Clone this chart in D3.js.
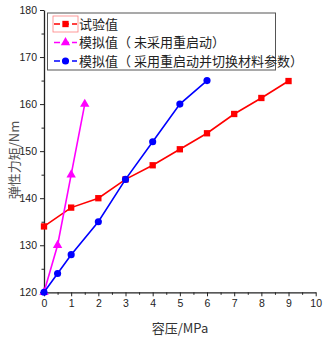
<!DOCTYPE html>
<html><head><meta charset="utf-8">
<script src="https://cdn.jsdelivr.net/npm/d3@7"></script>
<style>body{margin:0;background:#fff}svg{display:block}</style>
</head><body>
<script>
const seriesNames = ["试验值", "模拟值（ 未采用重启动）", "模拟值（ 采用重启动并切换材料参数）"];
const testX = [0, 1, 2, 3, 4, 5, 6, 7, 8, 9];
const testY = [134, 138, 140, 144, 147, 150.4, 153.8, 157.9, 161.3, 164.9];
const simAX = [0, 0.5, 1, 1.5];
const simAY = [120, 130, 145, 160];
const simBX = [0, 0.5, 1, 2, 3, 4, 5, 6];
const simBY = [120, 124, 128, 135, 144, 152, 160, 165];
const xTicks = [0, 1, 2, 3, 4, 5, 6, 7, 8, 9, 10];
const yTicks = [120, 130, 140, 150, 160, 170, 180];
const colors = ["#ff0000", "#ff00ff", "#0000ff"];

const W = 326, H = 342;
const svg = d3.select("body").append("svg").attr("width", W).attr("height", H);
const x = d3.scaleLinear().domain([0, 10]).range([44, 315.7]);
const y = d3.scaleLinear().domain([120, 180]).range([292.3, 10]);

const tickFont = "'Liberation Sans Narrow','Arial Narrow','Liberation Sans',sans-serif";

// axes
const xAxis = svg.append("g").attr("transform", `translate(0,${y(120)})`)
  .call(d3.axisBottom(x).tickValues(xTicks).tickSize(4).tickSizeOuter(0).tickFormat(d3.format("d")));
const xMinor = svg.append("g").attr("transform", `translate(0,${y(120)})`)
  .call(d3.axisBottom(x).tickValues(d3.range(0.5, 10, 1)).tickSize(2.5).tickSizeOuter(0).tickFormat(""));
xMinor.select(".domain").remove();
const yAxis = svg.append("g").attr("transform", `translate(${x(0)},0)`)
  .call(d3.axisLeft(y).tickValues(yTicks).tickSize(4).tickSizeOuter(0).tickFormat(d3.format("d")));
const yMinor = svg.append("g").attr("transform", `translate(${x(0)},0)`)
  .call(d3.axisLeft(y).tickValues(d3.range(125, 180, 10)).tickSize(2.5).tickSizeOuter(0).tickFormat(""));
yMinor.select(".domain").remove();
svg.selectAll(".domain").attr("stroke", "#222").attr("stroke-width", 1.3);
svg.selectAll(".tick line").attr("stroke", "#222").attr("stroke-width", 1);
svg.selectAll(".tick text").attr("font-family", tickFont).attr("font-size", 10.5).attr("fill", "#222");
xAxis.selectAll(".tick text").attr("dy", "0.9em").attr("y", 5);

// series
const series = [
  {xs: testX, ys: testY, c: colors[0], m: "square"},
  {xs: simAX, ys: simAY, c: colors[1], m: "triangle"},
  {xs: simBX, ys: simBY, c: colors[2], m: "circle"}
];
const line = d3.line().x(d => x(d[0])).y(d => y(d[1]));
const symFor = m => m === "square" ? d3.symbolSquare : m === "triangle" ? d3.symbolTriangle : d3.symbolCircle;
const sizeFor = m => m === "square" ? 40 : m === "triangle" ? 38 : 40;

series.forEach(s => {
  const pts = s.xs.map((v, i) => [v, s.ys[i]]);
  svg.append("path").datum(pts).attr("d", line).attr("fill", "none").attr("stroke", s.c).attr("stroke-width", 1.6);
  svg.selectAll(null).data(pts).enter().append("path")
    .attr("d", d3.symbol().type(symFor(s.m)).size(sizeFor(s.m)))
    .attr("transform", d => `translate(${x(d[0])},${y(d[1])})`)
    .attr("fill", s.c);
});

// legend
const lg = svg.append("g");
lg.append("rect").attr("x", 47.5).attr("y", 13).attr("width", 228).attr("height", 57)
  .attr("fill", "#fff").attr("stroke", "#555").attr("stroke-width", 1);
lg.append("rect").attr("x", 53).attr("y", 16).attr("width", 25).attr("height", 16)
  .attr("fill", "none").attr("stroke", "#ff8080").attr("stroke-width", 0.8);
const rowsY = [24, 42.5, 61];
series.forEach((s, i) => {
  const ry = rowsY[i];
  lg.append("line").attr("x1", 54).attr("x2", 77).attr("y1", ry).attr("y2", ry)
    .attr("stroke", s.c).attr("stroke-width", 1.6).attr("stroke-dasharray", "6,3");
  lg.append("path").attr("d", d3.symbol().type(symFor(s.m)).size(sizeFor(s.m))())
    .attr("transform", `translate(65.5,${ry})`).attr("fill", s.c);
  lg.append("text").attr("x", 79).attr("y", ry).attr("dy", "0.36em")
    .attr("font-family", "'Noto Sans CJK SC',sans-serif").attr("font-size", 13)
    .attr("fill", "#222").text(seriesNames[i]);
});

// axis titles
svg.append("text").attr("x", 180).attr("y", 333).attr("text-anchor", "middle")
  .attr("font-family", "'Noto Sans CJK SC',serif").attr("font-size", 13).attr("fill", "#333")
  .text("容压/MPa");
svg.append("text").attr("transform", "translate(19,160) rotate(-90)").attr("text-anchor", "middle")
  .attr("font-family", "'Noto Sans CJK SC',sans-serif").attr("font-size", 13).attr("fill", "#555")
  .text("弹性力矩/Nm");
</script>
</body></html>
